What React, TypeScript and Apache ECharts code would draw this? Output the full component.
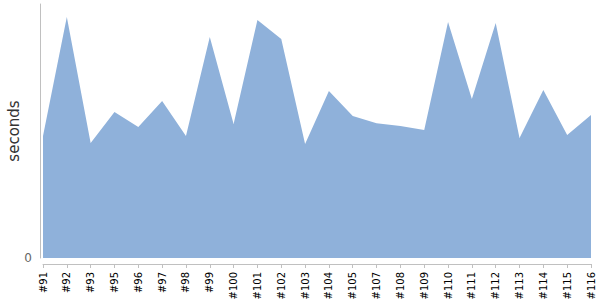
import React, { useEffect, useRef } from "react";
import * as echarts from "echarts";

const categories = ["#91", "#92", "#93", "#95", "#96", "#97", "#98", "#99", "#100", "#101", "#102", "#103", "#104", "#105", "#107", "#108", "#109", "#110", "#111", "#112", "#113", "#114", "#115", "#116"];
const seconds = [48.0, 94.9, 45.3, 57.5, 51.6, 61.8, 48.0, 87.0, 52.8, 93.7, 86.2, 44.9, 65.7, 55.9, 53.1, 52.0, 50.4, 92.9, 62.6, 92.5, 47.2, 66.1, 48.4, 56.3];
const yMax = 100;

export default function App() {
  const ref = useRef<HTMLDivElement>(null);
  useEffect(() => {
    if (!ref.current) return;
    const chart = echarts.init(ref.current, null, { renderer: "svg" });
    chart.setOption({
      animation: false,
      grid: { left: 43, right: 9, top: 4, bottom: 42, containLabel: false, outerBoundsMode: "none" },
      xAxis: {
        type: "category",
        data: categories,
        boundaryGap: false,
        offset: 6,
        axisLine: { show: true, onZero: false, lineStyle: { color: "#c0c0c0", width: 1 } },
        axisTick: { show: true, length: 4, alignWithLabel: true, lineStyle: { color: "#c0c0c0" } },
        axisLabel: {
          rotate: 90,
          interval: 0,
          margin: 8,
          fontSize: 10,
          color: "#000",
          fontFamily: "DejaVu Sans",
        },
        splitLine: { show: false },
      },
      yAxis: {
        type: "value",
        min: 0,
        max: yMax,
        interval: yMax,
        offset: 3,
        name: "seconds",
        nameLocation: "middle",
        nameGap: 19,
        nameMoveOverlap: false,
        nameTextStyle: { fontSize: 15, color: "#333", fontFamily: "DejaVu Sans" },
        axisLine: { show: true, lineStyle: { color: "#c0c0c0", width: 1 } },
        axisTick: { show: false },
        axisLabel: {
          margin: 8,
          fontSize: 12,
          color: "#666",
          fontFamily: "DejaVu Sans",
          formatter: (v: number) => (v === 0 ? "0" : ""),
        },
        splitLine: { show: false },
      },
      series: [
        {
          type: "line",
          data: seconds,
          symbol: "none",
          lineStyle: { width: 0 },
          areaStyle: { color: "#8fb1da", opacity: 1 },
        },
      ],
    });
    return () => chart.dispose();
  }, []);
  return <div ref={ref} style={{ width: 600, height: 300, position: "absolute", left: 0, top: 0 }} />;
}
